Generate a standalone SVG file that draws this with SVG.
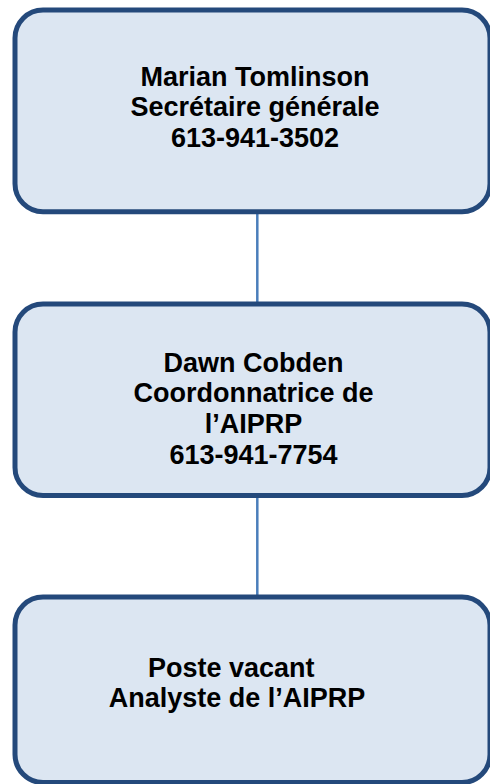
<svg xmlns="http://www.w3.org/2000/svg" width="490" height="784" viewBox="0 0 490 784">
  <style>
    .box { fill: #dce6f2; stroke: #24497b; stroke-width: 5; }
    .lbl { font-family: "Liberation Sans", Arial, sans-serif; font-weight: bold; font-size: 27px; fill: #000; }
    .mid { text-anchor: middle; }
    .conn { stroke: #4a7ebb; stroke-width: 2.5; fill: none; }
  </style>
  <rect width="490" height="784" fill="#ffffff"/>
  <g id="connectors">
    <line class="conn" x1="257.3" y1="213" x2="257.3" y2="303"/>
    <line class="conn" x1="257.3" y1="497" x2="257.3" y2="596"/>
  </g>
  <g id="node-tomlinson">
    <rect class="box" x="15" y="10" width="475" height="201.7" rx="28" ry="28"/>
    <text class="lbl mid" x="255" y="85.7">Marian Tomlinson</text>
    <text class="lbl mid" x="255" y="116.4">Secrétaire générale</text>
    <text class="lbl mid" x="255" y="147">613-941-3502</text>
  </g>
  <g id="node-cobden">
    <rect class="box" x="15" y="304" width="475" height="191.5" rx="28" ry="28"/>
    <text class="lbl mid" x="253.5" y="371.7">Dawn Cobden</text>
    <text class="lbl mid" x="253.5" y="402.3">Coordonnatrice de</text>
    <text class="lbl mid" x="253.5" y="433">l’AIPRP</text>
    <text class="lbl mid" x="253.5" y="463.8">613-941-7754</text>
  </g>
  <g id="node-vacant">
    <rect class="box" x="15" y="597" width="475" height="185.5" rx="28" ry="28"/>
    <text class="lbl" x="148" y="676.5">Poste vacant</text>
    <text class="lbl mid" x="237" y="707">Analyste de l’AIPRP</text>
  </g>
</svg>
